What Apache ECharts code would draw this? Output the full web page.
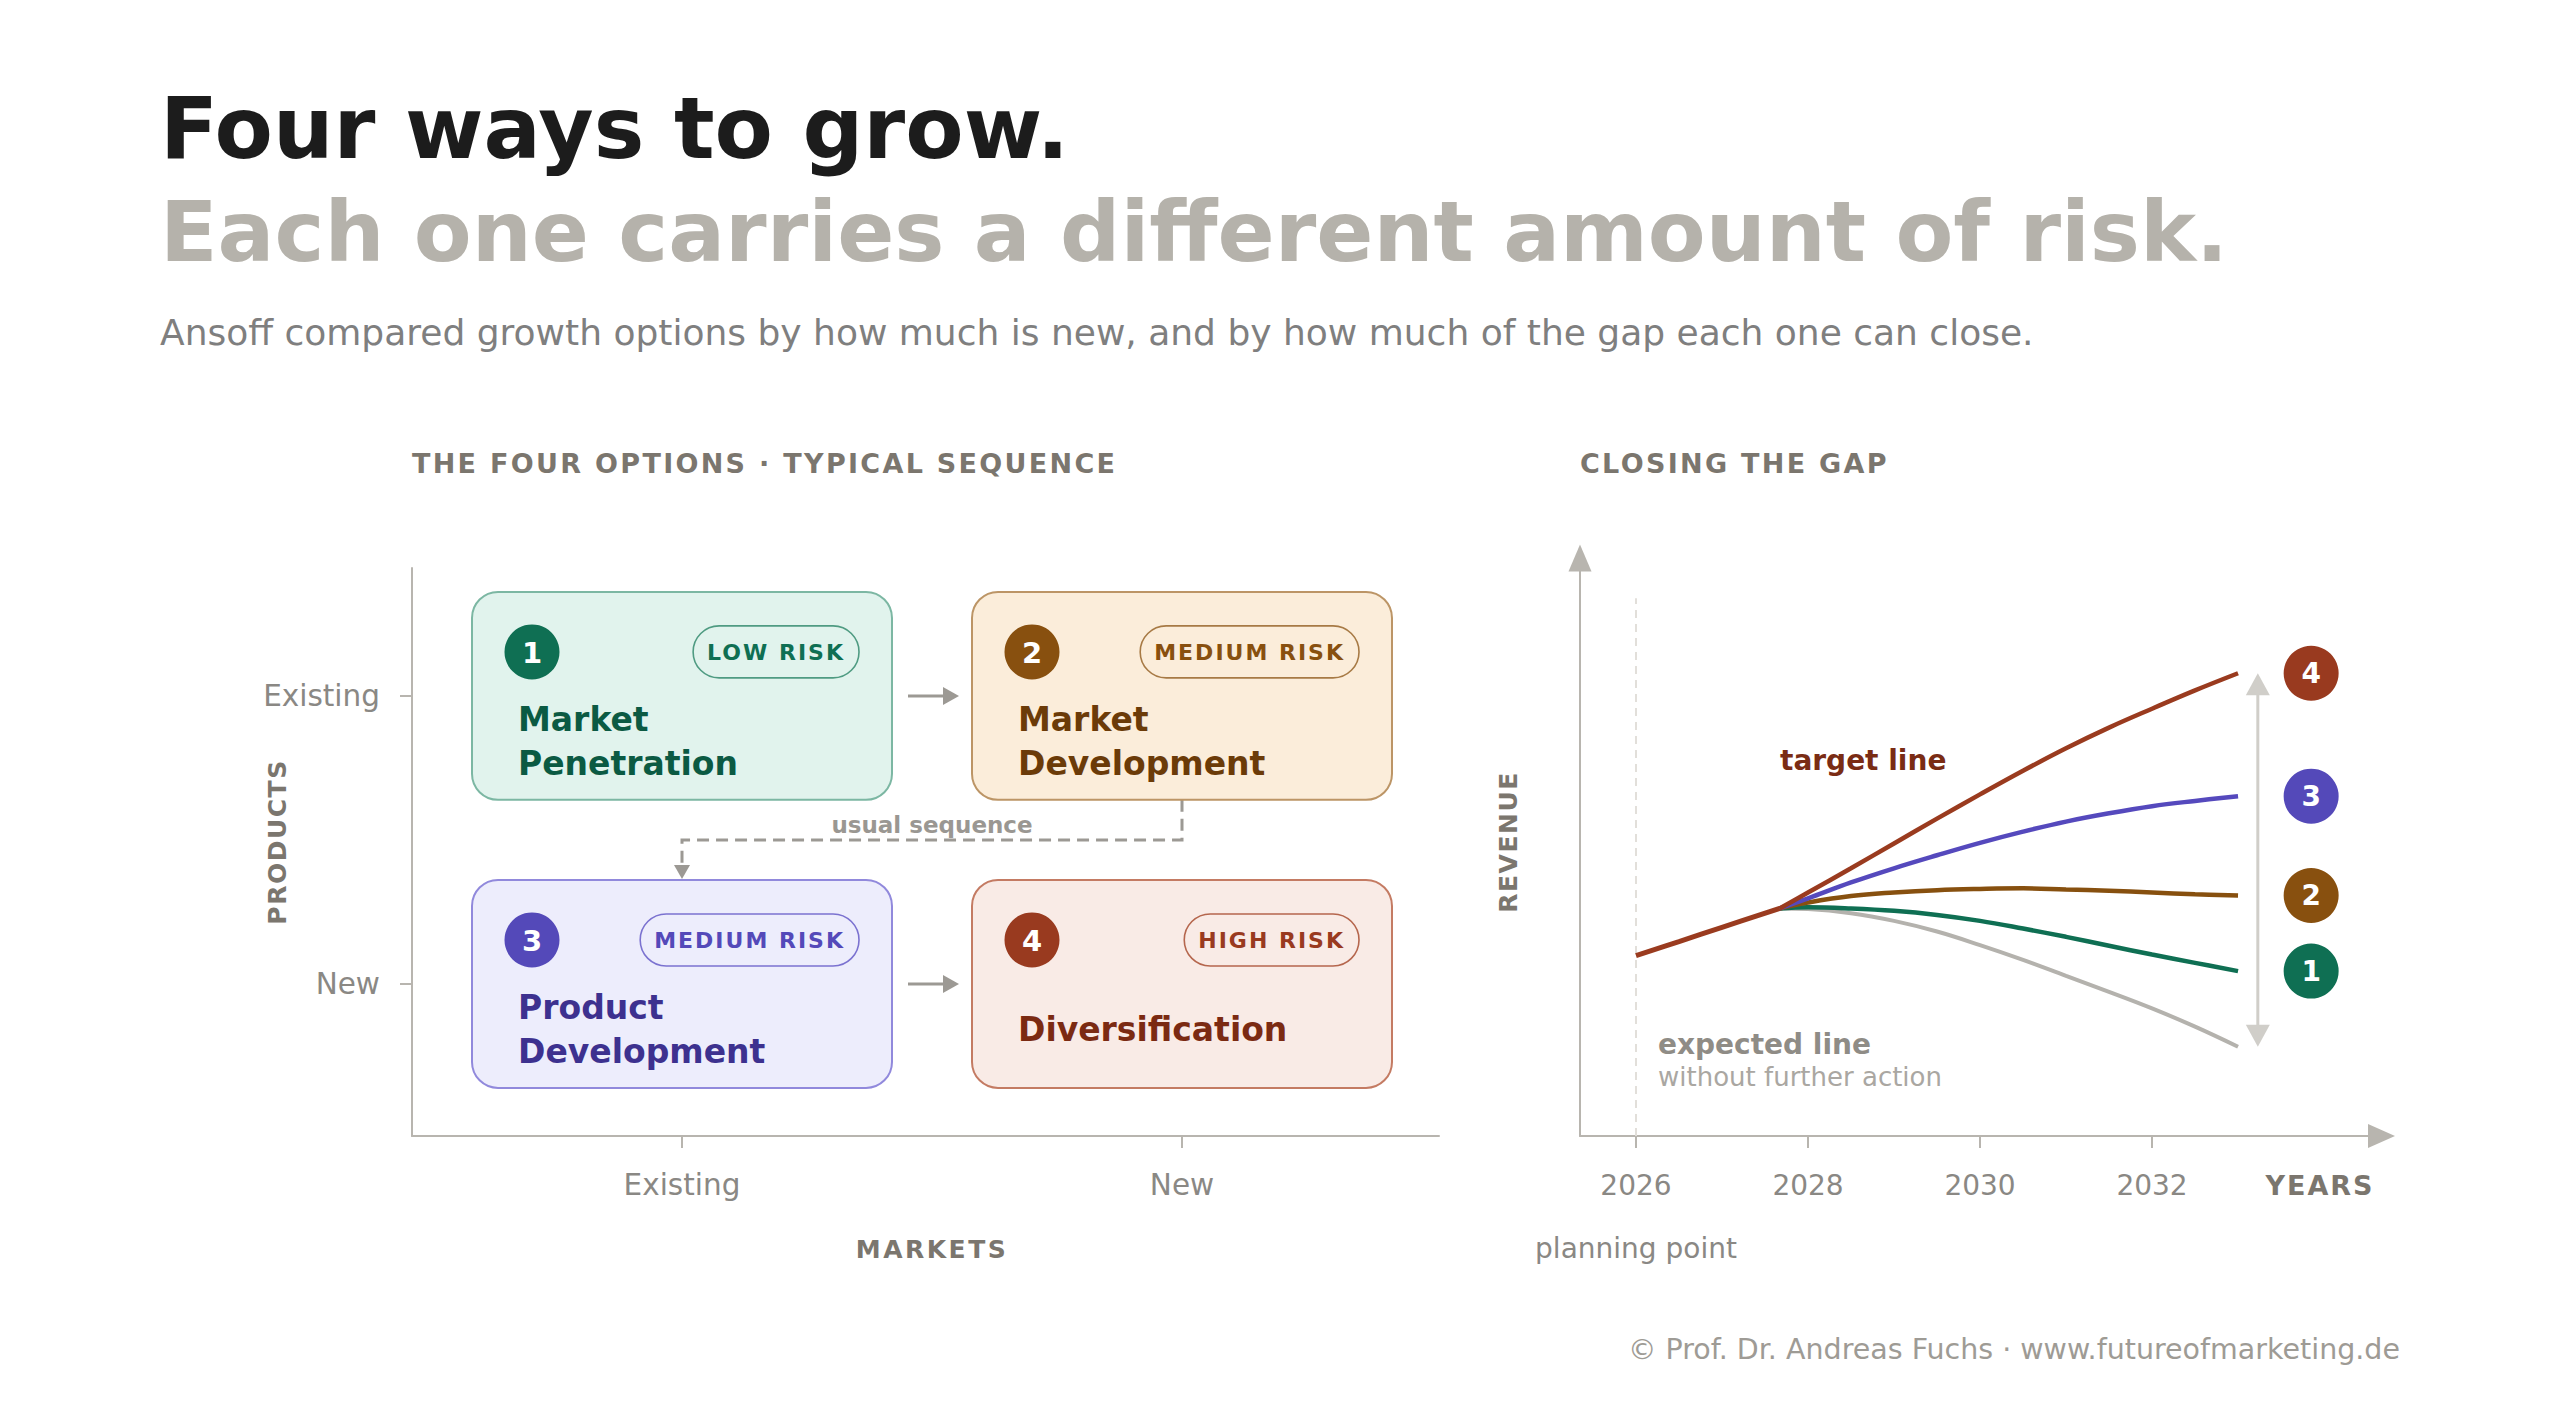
<!DOCTYPE html>
<html><head><meta charset="utf-8">
<script src="https://cdn.jsdelivr.net/npm/echarts@6/dist/echarts.min.js"></script>
<style>html,body{margin:0;padding:0;background:#ffffff}#c{width:2560px;height:1420px}</style>
</head><body><div id="c"></div>
<script>
// ---------------- data ----------------
const marketLabels = ['Existing', 'New'];
const productLabels = ['Existing', 'New'];
const optionNumbers = ['1', '2', '3', '4'];
const optionNames = ['Market\nPenetration', 'Market\nDevelopment', 'Product\nDevelopment', 'Diversification'];
const optionRisk = ['LOW RISK', 'MEDIUM RISK', 'MEDIUM RISK', 'HIGH RISK'];
const optionMarket = [0, 1, 0, 1];
const optionProduct = [0, 0, 1, 1];
const sequenceSteps = [[0, 1], [2, 3]];
const usualSequence = [1, 2];

const yearTicks = [2026, 2028, 2030, 2032];
const planningYear = 2026;
const planningLineTop = 91;
const historyYears = [2026, 2026.5, 2027, 2027.67];
const historyRevenue = [30.5, 32.9, 35.3, 38.5];
const forecastYears = [2027.67, 2028, 2028.5, 2029, 2029.5, 2030, 2030.5, 2031, 2031.5, 2032, 2032.5, 2033];
const expectedRevenue = [38.5, 38.4, 37.7, 36.4, 34.6, 32.3, 29.8, 27.1, 24.4, 21.6, 18.5, 15.1];
const option1Revenue = [38.5, 38.7, 38.5, 38.1, 37.4, 36.4, 35.1, 33.7, 32.2, 30.7, 29.3, 27.9];
const option2Revenue = [38.5, 39.5, 40.6, 41.2, 41.6, 41.8, 41.9, 41.7, 41.5, 41.2, 40.9, 40.7];
const option3Revenue = [38.5, 40.2, 42.9, 45.3, 47.5, 49.6, 51.5, 53.2, 54.6, 55.8, 56.7, 57.5];
const option4Revenue = [38.5, 41.2, 45.3, 49.5, 53.7, 57.8, 61.8, 65.6, 69.1, 72.3, 75.4, 78.3];

// ---------------- styles ----------------
const FF = '"DejaVu Sans"';
const boxStyles = [
  {fill: '#e1f3ed', stroke: '#7cb7a3', main: '#0f6f53', text: '#0b5a43', pill: '#4f9b82'},
  {fill: '#fbedda', stroke: '#bc9566', main: '#88500f', text: '#6b3b08', pill: '#a77a45'},
  {fill: '#ededfc', stroke: '#9189dc', main: '#5449b9', text: '#3d318f', pill: '#7b72d0'},
  {fill: '#f9ebe6', stroke: '#c47b63', main: '#993a1f', text: '#7b2a12', pill: '#b5664d'}
];
const lineColors = {target: '#9a3b1f', o3: '#5549bd', o2: '#87500f', o1: '#0f6f53', expected: '#b4b2ad'};
const axisGray = '#b8b5af';
const flowGray = '#9c9994';
const letterSpacing = {
  'THE FOUR OPTIONS · TYPICAL SEQUENCE': 2.3, 'CLOSING THE GAP': 2.3,
  'MARKETS': 2.5, 'PRODUCTS': 1.5, 'REVENUE': 1.5, 'YEARS': 2,
  'LOW RISK': 2, 'MEDIUM RISK': 2, 'HIGH RISK': 2
};
const mctx = document.createElement('canvas').getContext('2d');
function textWidth(t, font) {
  mctx.font = font;
  return mctx.measureText(t).width + (letterSpacing[t] || 0) * (t.length - 1);
}
function T(x, y, text, font, fill, align, rot) {
  return {type: 'text', x: x, y: y, rotation: rot || 0, silent: true,
    style: {text: text, font: font, fill: fill, textAlign: align || 'left', textVerticalAlign: 'middle',
            align: align || 'left', verticalAlign: 'middle'}};
}
const zip = (xs, ys) => xs.map((x, i) => [x, ys[i]]);

// ---------------- render helpers ----------------
const BOX_W = 0.84, BOX_H = 0.722;
function renderBox(params, api) {
  const i = api.value(2);
  const c = api.coord([api.value(0), api.value(1)]);
  const s = api.size([BOX_W, BOX_H]);
  const w = s[0], h = s[1];
  const x0 = c[0] - w / 2, y0 = c[1] - h / 2;
  const st = boxStyles[i];
  const pillFont = 'bold 22px ' + FF;
  const pw = textWidth(optionRisk[i], pillFont) + 30;
  const px = x0 + w - 33 - pw;
  return {type: 'group', children: [
    {type: 'rect', shape: {x: x0, y: y0, width: w, height: h, r: 26}, style: {fill: st.fill, stroke: st.stroke, lineWidth: 2}},
    {type: 'circle', shape: {cx: x0 + 60, cy: y0 + 60, r: 27.5}, style: {fill: st.main}},
    {type: 'text', x: x0 + 60, y: y0 + 61, style: {text: optionNumbers[i], fill: '#ffffff', font: 'bold 29px ' + FF,
      textAlign: 'center', textVerticalAlign: 'middle', align: 'center', verticalAlign: 'middle'}},
    {type: 'rect', shape: {x: px, y: y0 + 34, width: pw, height: 52, r: 26}, style: {fill: st.fill, stroke: st.pill, lineWidth: 1.6}},
    {type: 'text', x: px + pw / 2, y: y0 + 61, style: {text: optionRisk[i], fill: st.main, font: pillFont,
      textAlign: 'center', textVerticalAlign: 'middle', align: 'center', verticalAlign: 'middle'}},
    {type: 'text', x: x0 + 46, y: y0 + 150, style: {text: optionNames[i], fill: st.text, font: 'bold 33px ' + FF, lineHeight: 44,
      textAlign: 'left', textVerticalAlign: 'middle', align: 'left', verticalAlign: 'middle'}}
  ]};
}
function renderFlow(params, api) {
  const a = api.coord([api.value(0), api.value(1)]);
  const b = api.coord([api.value(2), api.value(3)]);
  const hw = api.size([BOX_W, BOX_H])[0] / 2;
  const x1 = a[0] + hw + 16, x2 = b[0] - hw - 13, y = a[1];
  return {type: 'group', children: [
    {type: 'line', shape: {x1: x1, y1: y, x2: x2 - 12, y2: y}, style: {stroke: flowGray, lineWidth: 3}},
    {type: 'polygon', shape: {points: [[x2, y], [x2 - 16, y - 9], [x2 - 16, y + 9]]}, style: {fill: flowGray}}
  ]};
}
function renderDashed(params, api) {
  const a = api.coord([api.value(0), api.value(1)]);
  const b = api.coord([api.value(2), api.value(3)]);
  const hh = api.size([BOX_W, BOX_H])[1] / 2;
  const yA = a[1] + hh, yB = b[1] - hh, midY = (yA + yB) / 2;
  return {type: 'group', children: [
    {type: 'polyline', shape: {points: [[a[0], yA], [a[0], midY], [b[0], midY], [b[0], yB - 12]]},
      style: {stroke: flowGray, lineWidth: 3, lineDash: [12, 7], fill: null}},
    {type: 'polygon', shape: {points: [[b[0], yB - 1], [b[0] - 8, yB - 15], [b[0] + 8, yB - 15]]}, style: {fill: flowGray}},
    {type: 'text', x: (a[0] + b[0]) / 2, y: midY - 15, style: {text: 'usual sequence', fill: '#9a9792', font: 'bold 23px ' + FF,
      textAlign: 'center', textVerticalAlign: 'middle', align: 'center', verticalAlign: 'middle'}}
  ]};
}
function renderGapArrow(params, api) {
  const top = api.coord([api.value(0), api.value(1)]);
  const bot = api.coord([api.value(0), api.value(2)]);
  const col = '#d0cec9';
  return {type: 'group', children: [
    {type: 'line', shape: {x1: top[0], y1: top[1] + 15, x2: bot[0], y2: bot[1] - 15}, style: {stroke: col, lineWidth: 3}},
    {type: 'polygon', shape: {points: [[top[0], top[1]], [top[0] - 12, top[1] + 22], [top[0] + 12, top[1] + 22]]}, style: {fill: col}},
    {type: 'polygon', shape: {points: [[bot[0], bot[1]], [bot[0] - 12, bot[1] - 22], [bot[0] + 12, bot[1] - 22]]}, style: {fill: col}}
  ]};
}

// ---------------- derived data ----------------
const boxData = optionMarket.map((m, i) => [m, optionProduct[i], i]);
const flowData = sequenceSteps.map(([a, b]) => [optionMarket[a], optionProduct[a], optionMarket[b], optionProduct[b]]);
const dashedData = [[optionMarket[usualSequence[0]], optionProduct[usualSequence[0]], optionMarket[usualSequence[1]], optionProduct[usualSequence[1]]]];
const optionSeries = [option1Revenue, option2Revenue, option3Revenue, option4Revenue];
const lastYear = forecastYears[forecastYears.length - 1];
const last = arr => arr[arr.length - 1];
const markerData = optionSeries.map((s, i) => ({
  value: [lastYear + 0.85, last(s)], itemStyle: {color: boxStyles[i].main, opacity: 1}, label: {formatter: optionNumbers[i]}
}));
const gapData = [[lastYear + 0.23, last(option4Revenue), last(expectedRevenue)]];

const labelStyle = {fontFamily: FF, color: '#8a8884'};
const lineS = (data, color, width, z) => ({type: 'line', xAxisIndex: 1, yAxisIndex: 1, data: data, smooth: 0.4,
  symbol: 'none', z: z, lineStyle: {color: color, width: width, cap: 'butt'}, silent: true});

const option = {
  backgroundColor: '#ffffff',
  animation: false,
  grid: [
    {left: 412, top: 568, width: 1027, height: 568},
    {left: 1580, top: 558, width: 801.5, height: 578}
  ],
  xAxis: [
    {gridIndex: 0, type: 'value', min: -0.54, max: 1.514, splitLine: {show: false},
      axisLine: {show: true, onZero: false, lineStyle: {color: axisGray, width: 2}},
      axisTick: {show: true, customValues: [0, 1], length: 12, lineStyle: {color: axisGray, width: 2}},
      axisLabel: {customValues: [0, 1], formatter: v => marketLabels[Math.round(v)], fontSize: 29.5, margin: 34, ...labelStyle}},
    {gridIndex: 1, type: 'value', min: 2025.349, max: 2034.668, splitLine: {show: false},
      axisLine: {show: true, onZero: false, symbol: ['none', 'triangle'], symbolSize: [24, 27], lineStyle: {color: axisGray, width: 2}},
      axisTick: {show: true, customValues: yearTicks, length: 12, lineStyle: {color: axisGray, width: 2}},
      axisLabel: {customValues: yearTicks, formatter: v => String(Math.round(v)), fontSize: 28, margin: 35, ...labelStyle}}
  ],
  yAxis: [
    {gridIndex: 0, type: 'value', inverse: true, min: -0.444, max: 1.528, splitLine: {show: false},
      axisLine: {show: true, onZero: false, lineStyle: {color: axisGray, width: 2}},
      axisTick: {show: true, customValues: [0, 1], length: 12, lineStyle: {color: axisGray, width: 2}},
      axisLabel: {customValues: [0, 1], formatter: v => productLabels[Math.round(v)], fontSize: 29.5, margin: 32, ...labelStyle}},
    {gridIndex: 1, type: 'value', min: 0, max: 97.8, splitLine: {show: false},
      axisLine: {show: true, onZero: false, symbol: ['none', 'triangle'], symbolSize: [23, 27], lineStyle: {color: axisGray, width: 2}},
      axisTick: {show: false}, axisLabel: {show: false}}
  ],
  graphic: [
    T(160, 128, 'Four ways to grow.', 'bold 85px ' + FF, '#1c1c1c'),
    T(160, 232, 'Each one carries a different amount of risk.', 'bold 84.3px ' + FF, '#b5b2ab'),
    T(160, 332, 'Ansoff compared growth options by how much is new, and by how much of the gap each one can close.', '36px ' + FF, '#7f7f7f'),
    T(412, 463, 'THE FOUR OPTIONS · TYPICAL SEQUENCE', 'bold 27px ' + FF, '#7b766e'),
    T(1580, 463, 'CLOSING THE GAP', 'bold 27px ' + FF, '#7b766e'),
    T(277, 842, 'PRODUCTS', 'bold 25px ' + FF, '#7b766e', 'center', Math.PI / 2),
    T(932, 1249, 'MARKETS', 'bold 25px ' + FF, '#7b766e', 'center'),
    T(1508, 842, 'REVENUE', 'bold 25px ' + FF, '#7b766e', 'center', Math.PI / 2),
    T(2320, 1185, 'YEARS', 'bold 27px ' + FF, '#7b766e', 'center'),
    T(1636, 1248, 'planning point', '28px ' + FF, '#8a8884', 'center'),
    T(1780, 760, 'target line', 'bold 28px ' + FF, '#7a2c14'),
    T(1658, 1044, 'expected line', 'bold 28px ' + FF, '#8f8c86'),
    T(1658, 1077, 'without further action', '26px ' + FF, '#aaa7a2'),
    T(2400, 1349, '© Prof. Dr. Andreas Fuchs · www.futureofmarketing.de', '28.5px ' + FF, '#9e9b95', 'right')
  ],
  series: [
    {type: 'custom', xAxisIndex: 0, yAxisIndex: 0, data: dashedData, renderItem: renderDashed, silent: true, z: 2},
    {type: 'custom', xAxisIndex: 0, yAxisIndex: 0, data: flowData, renderItem: renderFlow, silent: true, z: 2},
    {type: 'custom', xAxisIndex: 0, yAxisIndex: 0, data: boxData, renderItem: renderBox, silent: true, z: 3},
    {type: 'line', xAxisIndex: 1, yAxisIndex: 1, data: [[planningYear, 0], [planningYear, planningLineTop]], symbol: 'none',
      lineStyle: {color: '#e2dfda', width: 2, type: [8, 6]}, silent: true, z: 1},
    lineS(zip(forecastYears, expectedRevenue), lineColors.expected, 4, 2),
    lineS(zip(forecastYears, option1Revenue), lineColors.o1, 4.5, 3),
    lineS(zip(forecastYears, option2Revenue), lineColors.o2, 4.5, 3),
    lineS(zip(forecastYears, option3Revenue), lineColors.o3, 4.5, 3),
    lineS(zip(forecastYears, option4Revenue), lineColors.target, 4.5, 4),
    lineS(zip(historyYears, historyRevenue), lineColors.target, 5, 5),
    {type: 'custom', xAxisIndex: 1, yAxisIndex: 1, data: gapData, renderItem: renderGapArrow, silent: true, z: 2},
    {type: 'scatter', xAxisIndex: 1, yAxisIndex: 1, data: markerData, symbol: 'circle', symbolSize: 55, silent: true, z: 6,
      itemStyle: {opacity: 1},
      label: {show: true, position: 'inside', color: '#ffffff', fontFamily: FF, fontWeight: 'bold', fontSize: 28}}
  ]
};

const chart = echarts.init(document.getElementById('c'), null, {renderer: 'svg', width: 2560, height: 1420});
function applySpacing() {
  document.querySelectorAll('#c svg text').forEach(el => {
    const t = (el.textContent || '').trim();
    if (letterSpacing[t] != null) el.style.letterSpacing = letterSpacing[t] + 'px';
  });
}
chart.on('finished', applySpacing);
chart.setOption(option);
setTimeout(applySpacing, 50);
</script>
</body></html>
